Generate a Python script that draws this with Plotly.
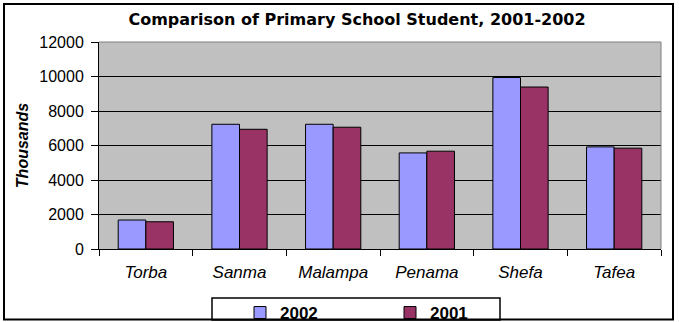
import plotly.graph_objects as go

categories = ["Torba", "Sanma", "Malampa", "Penama", "Shefa", "Tafea"]
values_2002 = [1680, 7230, 7230, 5570, 9940, 5920]
values_2001 = [1580, 6940, 7060, 5670, 9390, 5845]
y_ticks = [0, 2000, 4000, 6000, 8000, 10000, 12000]
y_tick_labels = ["0", "2000", "4000", "6000", "8000", "10000", "12000"]

W, H = 679, 322
L, R, T, B = 99, 661, 42, 249  # plot area in pixels

def px_x(p):
    return (p - L) / (R - L)

def px_y(p):
    return (B - p) / (B - T)

FONT = "Liberation Sans, Arial, sans-serif"

fig = go.Figure()
fig.add_trace(go.Bar(name="2002", x=categories, y=values_2002,
                     marker=dict(color="#9999FF", line=dict(color="black", width=1))))
fig.add_trace(go.Bar(name="2001", x=categories, y=values_2001,
                     marker=dict(color="#993366", line=dict(color="black", width=1))))

fig.update_layout(
    width=W, height=H,
    margin=dict(l=L, r=W - R, t=T, b=H - B, pad=0, autoexpand=False),
    paper_bgcolor="white",
    plot_bgcolor="#C0C0C0",
    barmode="group",
    bargap=0.41,
    bargroupgap=0,
    font=dict(family=FONT, color="black"),
    title=dict(text="<b>Comparison of Primary School Student, 2001-2002</b>",
               x=357 / W, xanchor="center", y=1 - 19 / H, yanchor="middle",
               font=dict(size=16, family="DejaVu Sans, sans-serif", color="black")),
    showlegend=True,
    legend=dict(orientation="h", x=px_x(240), y=px_y(295), xanchor="left", yanchor="top",
                bgcolor="rgba(0,0,0,0)", borderwidth=0,
                font=dict(size=17, family=FONT, color="black", weight="bold"),
                entrywidth=105, entrywidthmode="pixels", traceorder="normal"),
    xaxis=dict(showgrid=False, ticks="outside", tickson="boundaries", ticklen=6,
               tickcolor="black", showline=True, linecolor="black", linewidth=1,
               tickfont=dict(size=17, family=FONT, style="italic", color="black"),
               ticklabelstandoff=8, automargin=False),
    yaxis=dict(range=[0, 12000], tickmode="array", tickvals=y_ticks, ticktext=y_tick_labels,
               ticks="outside", ticklen=7,
               tickcolor="black", showline=True, linecolor="black", linewidth=1,
               showgrid=True, gridcolor="black", gridwidth=1, zeroline=False,
               tickfont=dict(size=16, family=FONT, color="black"),
               ticklabelstandoff=4, automargin=False,
               title=dict(text="Thousands", standoff=6,
                          font=dict(size=16, family=FONT, color="black",
                                    weight="bold", style="italic"))),
    shapes=[
        # plot area top/right border (gray)
        dict(type="line", xref="paper", yref="paper", x0=0, x1=1, y0=1, y1=1,
             line=dict(color="#808080", width=1)),
        dict(type="line", xref="paper", yref="paper", x0=1, x1=1, y0=0, y1=1,
             line=dict(color="#808080", width=1)),
        # legend box
        dict(type="rect", xref="paper", yref="paper",
             x0=px_x(212), x1=px_x(500), y0=px_y(320), y1=px_y(298),
             line=dict(color="black", width=1.5), fillcolor="rgba(0,0,0,0)"),
        # outer frame
        dict(type="rect", xref="paper", yref="paper",
             x0=px_x(4), x1=px_x(673), y0=px_y(319.5), y1=px_y(4),
             line=dict(color="black", width=2), fillcolor="rgba(0,0,0,0)"),
    ],
)

fig.write_html("out.html")
